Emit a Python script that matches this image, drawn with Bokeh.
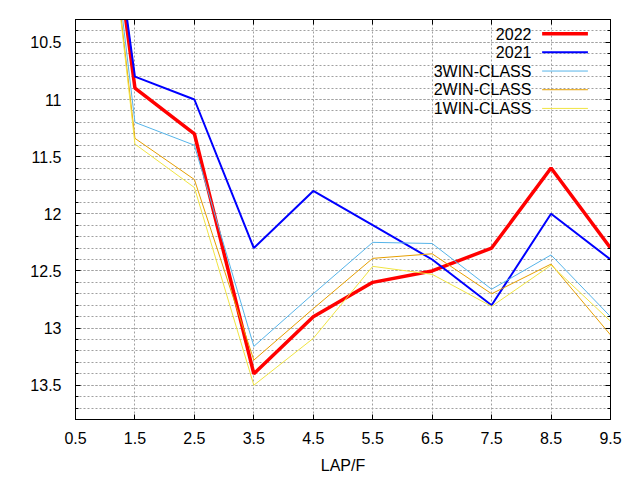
from bokeh.plotting import figure
from bokeh.models import Range1d, FixedTicker, CustomJSTickFormatter, LinearAxis
from bokeh.embed import file_html
from bokeh.resources import INLINE
from bokeh.core.properties import value

# ---- data ----
laps = [0.5, 1.5, 2.5, 3.5, 4.5, 5.5, 6.5, 7.5, 8.5, 9.5]
y2022 = [7.0, 10.9, 11.3, 13.4, 12.9, 12.6, 12.5, 12.3, 11.6, 12.3]
y2021 = [7.0, 10.8, 11.0, 12.3, 11.8, 12.1, 12.4, 12.8, 12.0, 12.4]
win3 = [6.8, 11.2, 11.4, 13.16, 12.7, 12.25, 12.26, 12.66, 12.36, 12.9]
win2 = [6.8, 11.34, 11.70, 13.28, 12.83, 12.39, 12.35, 12.70, 12.44, 13.06]
win1 = [6.8, 11.39, 11.77, 13.50, 13.09, 12.46, 12.53, 12.81, 12.45, 12.94]
series_names = ["2022", "2021", "3WIN-CLASS", "2WIN-CLASS", "1WIN-CLASS"]
x_ticks = [0.5, 1.5, 2.5, 3.5, 4.5, 5.5, 6.5, 7.5, 8.5, 9.5]
y_ticks = [10.5, 11.0, 11.5, 12.0, 12.5, 13.0, 13.5]

series = [y2022, y2021, win3, win2, win1]
colors = ["#ff0000", "#0000ff", "#56b4e9", "#e69f00", "#f0e442"]
widths = [3.5, 2, 1, 1, 1]

FONT = "Liberation Sans"
FS = "16px"

p = figure(width=640, height=480, output_backend="svg", toolbar_location=None,
           x_range=Range1d(0.5, 9.5), y_range=Range1d(13.8, 10.3),
           min_border_left=75, min_border_right=30, min_border_top=19, min_border_bottom=61)
p.background_fill_color = "white"
p.border_fill_color = "white"
p.outline_line_color = "black"
p.outline_line_width = 1

minor_y = [round(10.3 + 0.1 * i, 1) for i in range(36)]
yticker = FixedTicker(ticks=y_ticks, minor_ticks=minor_y)
xticker = FixedTicker(ticks=x_ticks)
fmt = CustomJSTickFormatter(code="return String(Math.round(tick*10)/10)")
blank = CustomJSTickFormatter(code="return ''")

xa = p.xaxis[0]
ya = p.yaxis[0]
for ax, tk in ((xa, xticker), (ya, yticker)):
    ax.ticker = tk
    ax.formatter = fmt
    ax.axis_line_color = "black"
    ax.major_tick_line_color = "black"
    ax.minor_tick_line_color = "black"
    ax.major_tick_in = 5
    ax.major_tick_out = 0
    ax.minor_tick_in = 3
    ax.minor_tick_out = 0
    ax.major_label_text_font = FONT
    ax.major_label_text_font_size = FS
    ax.major_label_text_color = "black"
    ax.axis_label_text_font = FONT
    ax.axis_label_text_font_size = FS
    ax.axis_label_text_font_style = "normal"
    ax.axis_label_text_color = "black"
xa.major_label_standoff = 12
ya.major_label_standoff = 14
xa.axis_label = "LAP/F"
xa.axis_label_standoff = 10

for loc, tk in (("above", xticker), ("right", yticker)):
    ax2 = LinearAxis(ticker=tk, formatter=blank)
    ax2.axis_line_color = "black"
    ax2.major_tick_in = 5
    ax2.major_tick_out = 0
    ax2.minor_tick_in = 3
    ax2.minor_tick_out = 0
    ax2.major_label_text_font_size = "0px"
    ax2.major_label_standoff = 0
    p.add_layout(ax2, loc)

p.xgrid.ticker = xticker
p.ygrid.ticker = yticker
for g in (p.xgrid[0], p.ygrid[0]):
    g.grid_line_color = "#a0a0a0"
    g.grid_line_dash = "2 2"
    g.grid_line_width = 1
p.ygrid[0].minor_grid_line_color = "#a0a0a0"
p.ygrid[0].minor_grid_line_dash = "2 2"
p.ygrid[0].minor_grid_line_width = 1

for ys, c, w in zip(series, colors, widths):
    p.line(laps, ys, line_color=c, line_width=w)

# ---- legend (gnuplot style: label on the left, sample on the right) ----
leg_text_x = 8.17
leg_x0, leg_x1 = 8.35, 9.12
leg_top, leg_step = 10.424, 0.1635
leg_y = [leg_top + leg_step * i for i in range(len(series_names))]
p.text(x=[leg_text_x] * len(series_names), y=leg_y, text=series_names,
       text_align="right", text_baseline="middle", text_color="black",
       text_font=value(FONT), text_font_size=FS)
for yy, c, w in zip(leg_y, colors, widths):
    p.segment(x0=[leg_x0], y0=[yy], x1=[leg_x1], y1=[yy], line_color=c, line_width=w)

open("out.html", "w").write(file_html(p, INLINE))
